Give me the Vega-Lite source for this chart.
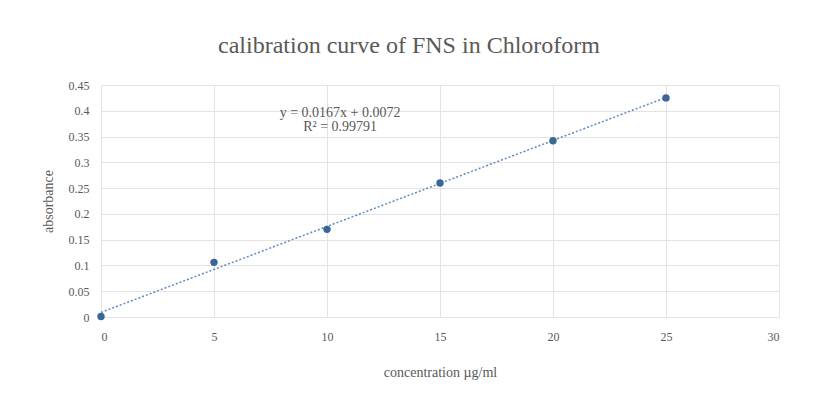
{
  "$schema": "https://vega.github.io/schema/vega-lite/v6.json",
  "autosize": {"type": "none"},
  "width": 678,
  "height": 232,
  "padding": {"left": 101, "top": 85, "right": 42, "bottom": 89},
  "background": "white",
  "title": {
    "text": "calibration curve of FNS in Chloroform",
    "font": "Liberation Serif",
    "fontSize": 24,
    "fontWeight": "normal",
    "color": "#595959",
    "offset": 21,
    "anchor": "middle",
    "dx": -31
  },
  "config": {
    "view": {"stroke": null},
    "title": {"font": "Liberation Serif"},
    "axis": {
      "labelFont": "Liberation Serif",
      "titleFont": "Liberation Serif",
      "labelColor": "#595959",
      "titleColor": "#595959",
      "labelFontSize": 12,
      "titleFontSize": 14,
      "titleFontWeight": "normal",
      "gridColor": "#e3e3e3",
      "gridWidth": 1,
      "tickSize": 0,
      "domain": false
    }
  },
  "data": {
    "values": [
      {"concentration": 0, "absorbance": 0.001},
      {"concentration": 5, "absorbance": 0.106},
      {"concentration": 10, "absorbance": 0.17},
      {"concentration": 15, "absorbance": 0.26},
      {"concentration": 20, "absorbance": 0.342},
      {"concentration": 25, "absorbance": 0.425}
    ]
  },
  "encoding": {
    "x": {
      "field": "concentration",
      "type": "quantitative",
      "scale": {"domain": [0, 30], "nice": false},
      "axis": {
        "values": [0, 5, 10, 15, 20, 25, 30],
        "title": "concentration µg/ml",
        "labelPadding": 14,
        "titlePadding": 23
      }
    },
    "y": {
      "field": "absorbance",
      "type": "quantitative",
      "scale": {"domain": [0, 0.45], "nice": false},
      "axis": {
        "values": [0, 0.05, 0.1, 0.15, 0.2, 0.25, 0.3, 0.35, 0.4, 0.45],
        "format": ".2~f",
        "labelOverlap": false,
        "title": "absorbance",
        "labelPadding": 12,
        "titlePadding": 13
      }
    }
  },
  "layer": [
    {
      "transform": [
        {"regression": "absorbance", "on": "concentration", "method": "linear", "extent": [0, 25]}
      ],
      "mark": {"type": "line", "color": "#5b8cc0", "strokeWidth": 1.5, "strokeDash": [2, 2]}
    },
    {
      "mark": {"type": "circle", "size": 55, "color": "#3a6796", "opacity": 1}
    },
    {
      "transform": [{"filter": "datum.concentration == 0"}],
      "mark": {"type": "text", "font": "Liberation Serif", "fontSize": 14, "fontWeight": "normal", "color": "#595959", "align": "center", "baseline": "middle"},
      "encoding": {
        "x": {"datum": 10.58},
        "y": {"datum": 0.396},
        "text": {"value": "y = 0.0167x + 0.0072"}
      }
    },
    {
      "transform": [{"filter": "datum.concentration == 0"}],
      "mark": {"type": "text", "font": "Liberation Serif", "fontSize": 14, "fontWeight": "normal", "color": "#595959", "align": "center", "baseline": "middle"},
      "encoding": {
        "x": {"datum": 10.58},
        "y": {"datum": 0.3685},
        "text": {"value": "R² = 0.99791"}
      }
    }
  ]
}
